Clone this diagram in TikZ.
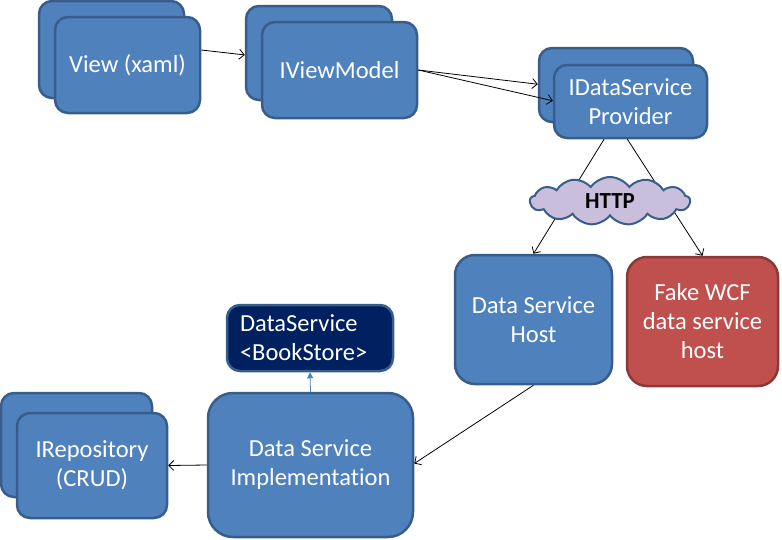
\documentclass[tikz,border=0pt]{standalone}
\usepackage{fontspec}
\setmainfont{Carlito}[Ligatures=NoCommon]
\usetikzlibrary{arrows.meta,shapes.symbols,calc}
\definecolor{boxblue}{HTML}{4F81BD}
\definecolor{boxline}{HTML}{385D8A}
\definecolor{boxred}{HTML}{C0504D}
\definecolor{redline}{HTML}{8C3836}
\definecolor{navy}{HTML}{002060}
\definecolor{lavender}{HTML}{C9BFDD}
\tikzset{
  box/.style={draw=boxline, fill=boxblue, line width=2.5pt, rounded corners=13pt,
    text=white, align=center, inner sep=0pt,
    font=\fontsize{24.5}{29}\selectfont},
  conn/.style={draw=black, line width=0.8pt, -{Straight Barb[length=5pt,width=10pt]}},
}
\begin{document}
\begin{tikzpicture}[x=1pt,y=-1pt]
\useasboundingbox (0,0) rectangle (782,539);
% View
\node[box, minimum width=145pt, minimum height=97pt] (viewb) at (111.5,49.5) {};
\node[box, minimum width=145pt, minimum height=96pt] (viewf) at (127.5,65) {View (xaml)};
% IViewModel
\node[box, minimum width=146pt, minimum height=94pt] (vmb) at (319,53) {};
\node[box, minimum width=155pt, minimum height=96pt] (vmf) at (339.5,70) {IViewModel};
% IDataService Provider
\node[box, minimum width=154pt, minimum height=74pt] (dspb) at (616,85) {};
\node[box, minimum width=153pt, minimum height=73pt] (dspf) at (630.5,101.5) {IDataService\\Provider};
% hosts
\node[box, rounded corners=20pt, minimum width=157pt, minimum height=129pt] (dsh) at (533.5,319.5) {Data Service\\Host};
\node[box, rounded corners=20pt, draw=redline, fill=boxred, minimum width=151pt, minimum height=129pt] (fake) at (702.5,321.5) {Fake WCF\\data service\\host};
% DataService
\node[box, fill=navy, draw=boxline, align=left, text width=140pt, inner xsep=13pt, minimum height=66pt] (ds) at (310,338) {DataService\\<BookStore>};
% Implementation
\node[box, rounded corners=25pt, minimum width=205pt, minimum height=144pt] (impl) at (310.5,465) {Data Service\\Implementation};
% IRepository
\node[box, minimum width=151pt, minimum height=104pt] (repb) at (76.5,445) {};
\node[box, minimum width=150pt, minimum height=105pt] (repf) at (92,465.5) {IRepository\\(CRUD)};
% connectors
\draw[conn] ([yshift=15pt]viewf.east) -- ($(vmb.north west)!0.52!(vmb.south west)$);
\coordinate (vmout) at (vmf.east);
\draw[conn] (vmout) -- ($(dspb.north west)!0.49!(dspb.south west)$);
\draw[conn] (vmout) -- ($(dspf.north west)!0.49!(dspf.south west)$);
\draw[conn] ($(dspf.south west)!0.33!(dspf.south east)$) -- ($(dsh.north west)!0.5!(dsh.north east)$);
\draw[conn] ($(dspf.south west)!0.48!(dspf.south east)$) -- ($(fake.north west)!0.5!(fake.north east)$);
\node[cloud, cloud puffs=13, cloud puff arc=110, aspect=3.3, draw=boxline, fill=lavender, line width=2pt,
  minimum width=160pt, minimum height=48pt, inner sep=0pt,
  font=\fontsize{23}{26}\bfseries\selectfont] (http) at (610,201) {HTTP};
\draw[conn] (dsh.south) -- ($(impl.north east)!0.49!(impl.south east)$);
\draw[conn] (impl.west) -- (repf.east);
\draw[draw=boxblue, line width=0.8pt, -{Triangle[length=6pt,width=6pt]}] (impl.north) -- (ds.south);
\end{tikzpicture}
\end{document}
